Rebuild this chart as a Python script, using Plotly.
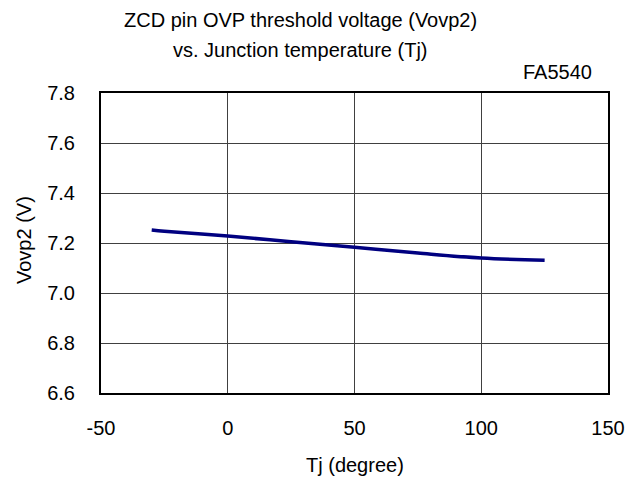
import plotly.graph_objects as go

temps = [-30, -25, 0, 25, 50, 75, 100, 125]
vovp2 = [7.252, 7.247, 7.228, 7.205, 7.183, 7.160, 7.140, 7.131]

x_ticks = [-50, 0, 50, 100, 150]
y_ticks = [6.6, 6.8, 7.0, 7.2, 7.4, 7.6, 7.8]

title_lines = ["ZCD pin OVP threshold voltage (Vovp2)", "vs. Junction temperature (Tj)"]
device = "FA5540"
x_title = "Tj (degree)"
y_title = "Vovp2 (V)"

font = dict(family="Liberation Sans, Arial, sans-serif", size=20, color="black")

fig = go.Figure()
fig.add_trace(go.Scatter(x=temps, y=vovp2, mode="lines",
                         line=dict(color="#000080", width=3.5, shape="spline"),
                         showlegend=False, hoverinfo="x+y"))

annos = [
    dict(text=title_lines[0], xref="paper", yref="paper", x=0, y=1, xshift=199, yshift=73,
         xanchor="center", yanchor="middle"),
    dict(text=title_lines[1], xref="paper", yref="paper", x=0, y=1, xshift=199, yshift=43,
         xanchor="center", yanchor="middle"),
    dict(text=device, xref="paper", yref="paper", x=1, y=1, xshift=-14, yshift=21,
         xanchor="right", yanchor="middle"),
    dict(text=x_title, xref="paper", yref="paper", x=0.5, y=0, yshift=-72,
         xanchor="center", yanchor="middle"),
    dict(text=y_title, xref="paper", yref="paper", x=0, y=0.5, xshift=-77, yshift=3,
         textangle=-90, xanchor="center", yanchor="middle"),
]
for a in annos:
    a["showarrow"] = False
    a["font"] = dict(size=20)

fig.update_layout(
    width=633, height=471,
    margin=dict(l=93, r=33, t=85, b=86, autoexpand=False),
    paper_bgcolor="white", plot_bgcolor="white",
    font=font,
    annotations=annos,
)
fig.update_xaxes(range=[-50, 150], tickvals=x_ticks, ticktext=[str(v) for v in x_ticks],
                 showgrid=True, gridcolor="#404040", gridwidth=1,
                 showline=True, linecolor="black", linewidth=2, mirror=True,
                 zeroline=False, ticks="", ticklabelstandoff=16, automargin=False)
fig.update_yaxes(range=[6.6, 7.8], tickvals=y_ticks, ticktext=[f"{v:.1f}" for v in y_ticks],
                 showgrid=True, gridcolor="#404040", gridwidth=1,
                 showline=True, linecolor="black", linewidth=2, mirror=True,
                 zeroline=False, ticks="", ticklabelstandoff=20, automargin=False)

fig.write_html("out.html")
